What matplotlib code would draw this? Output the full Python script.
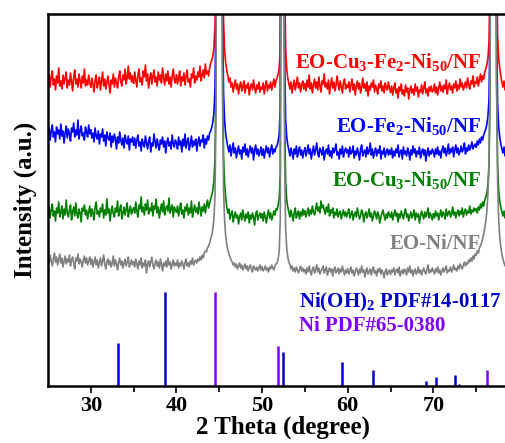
import numpy as np
import matplotlib
matplotlib.use("Agg")
import matplotlib.pyplot as plt

plt.rcParams['font.family'] = ['Liberation Serif', 'DejaVu Serif']
plt.rcParams['font.weight'] = 'bold'
plt.rcParams['mathtext.fontset'] = 'custom'
plt.rcParams['mathtext.rm'] = 'Liberation Serif:bold'
plt.rcParams['mathtext.it'] = 'Liberation Serif:italic:bold'
plt.rcParams['mathtext.bf'] = 'Liberation Serif:bold'

# XRD intensities, one row per 5 deg of 2theta (starting 25, 30, ... 75), step 0.125 deg
# 700 = peak top off scale
red = [
    [14, 22, 9, 19, 25, 11, 17, 6, 20, 13, 28, 10, 15, 7, 21, 12, 18, 24, 8, 16, 11, 23, 14, 5, 19, 26, 12, 17, 9, 22, 15, 8, 20, 13, 27, 10, 16, 11, 21, 14],
    [9, 18, 12, 4, 16, 21, 8, 13, 19, 6, 15, 24, 10, 17, 7, 14, 20, 11, 3, 16, 12, 22, 9, 18, 13, 8, 19, 25, 14, 10, 21, 16, 27, 12, 19, 30, 17, 23, 14, 20],
    [13, 24, 16, 9, 21, 27, 14, 18, 11, 25, 19, 31, 15, 22, 8, 17, 23, 12, 20, 26, 14, 19, 10, 24, 16, 21, 13, 28, 18, 11, 22, 15, 25, 12, 19, 9, 20, 27, 16, 13],
    [21, 12, 18, 25, 10, 19, 15, 23, 11, 20, 26, 14, 17, 9, 22, 18, 28, 13, 20, 16, 24, 19, 30, 15, 21, 26, 18, 32, 22, 25, 20, 28, 33, 36, 40, 48, 70, 150, 700, 700],
    [700, 700, 700, 170, 75, 45, 33, 26, 20, 14, 18, 9, 13, 4, 11, 16, 7, 12, 2, 10, 14, 5, 9, 15, 3, 11, 8, 13, 1, 9, 12, 6, 16, 8, 3, 11, 7, 14, 4, 9],
    [7, 13, 2, 10, 15, 5, 11, 8, 14, 6, 12, 17, 9, 15, 18, 22, 28, 50, 700, 700, 700, 120, 48, 27, 18, 12, 7, 14, 3, 10, 16, 6, 12, 19, 8, 13, 4, 11, 15, 7],
    [12, 5, 16, 9, 21, 7, 13, 3, 11, 17, 8, 14, 6, 19, 10, 4, 15, 12, 22, 9, 13, 7, 16, 2, 11, 18, 8, 14, 5, 10, 20, 12, 6, 15, 9, 3, 13, 17, 7, 11],
    [9, 14, 4, 11, 17, 6, 12, 1, 10, 15, 7, 13, 3, 9, 18, 8, 12, 5, 14, 0, 10, 6, 13, 9, 16, 4, 11, 7, 2, 12, 8, 15, 5, 10, 3, 13, 9, 6, 14, 8],
    [4, 10, 1, 8, 13, 3, 7, -2, 9, 5, 12, 2, 6, 0, 11, 4, 8, -3, 6, 10, 3, 7, 1, 12, 5, 9, -1, 6, 4, 11, 2, 8, 14, 3, 7, 0, 9, 5, 10, 4],
    [6, 12, 3, 9, 1, 8, 14, 5, 10, 4, 11, 7, 16, 2, 9, 13, 6, 10, 3, 12, 8, 15, 5, 11, 7, 17, 9, 13, 6, 10, 14, 8, 18, 11, 7, 15, 12, 20, 9, 14],
    [13, 19, 10, 16, 22, 14, 20, 17, 24, 27, 31, 38, 55, 130, 700, 700, 700, 700, 700, 150, 60, 38, 28, 20, 14, 9, 15, 6, 12, 8, 13, 5, 10],
]
blue = [
    [26, 33, 21, 30, 36, 24, 29, 19, 34, 27, 31, 22, 37, 25, 30, 18, 28, 35, 23, 32, 27, 20, 33, 29, 38, 24, 31, 26, 41, 22, 30, 35, 25, 28, 21, 34, 29, 24, 36, 27],
    [31, 23, 28, 19, 33, 25, 22, 30, 17, 27, 24, 32, 20, 26, 15, 29, 23, 21, 28, 14, 25, 19, 27, 22, 12, 24, 18, 29, 21, 16, 23, 13, 26, 20, 17, 25, 11, 22, 19, 24],
    [16, 23, 13, 21, 26, 15, 19, 10, 22, 17, 14, 25, 18, 12, 20, 24, 9, 18, 15, 27, 19, 13, 22, 16, 11, 21, 17, 24, 14, 20, 8, 18, 23, 15, 19, 12, 26, 17, 14, 21],
    [18, 12, 24, 16, 20, 9, 22, 15, 27, 13, 19, 23, 11, 17, 25, 14, 20, 16, 22, 10, 18, 24, 15, 21, 19, 26, 13, 22, 17, 25, 21, 28, 30, 34, 39, 48, 72, 160, 700, 700],
    [700, 700, 700, 160, 68, 40, 27, 20, 14, 9, 16, 5, 12, 18, 8, 13, 3, 10, 15, 7, 11, 2, 14, 9, 17, 6, 12, 4, 10, 15, 8, 13, 1, 11, 16, 7, 12, 5, 9, 14],
    [6, 12, 3, 10, 15, 8, 13, 4, 11, 16, 7, 12, 9, 14, 15, 20, 27, 55, 700, 700, 700, 110, 42, 24, 16, 11, 5, 13, 8, 2, 12, 7, 15, 4, 10, 14, 6, 11, 3, 9],
    [13, 5, 10, 16, 7, 12, 2, 9, 15, 6, 11, 18, 8, 4, 13, 10, 6, 14, 1, 9, 12, 7, 16, 5, 10, 3, 13, 8, 11, 17, 6, 9, 2, 12, 7, 15, 4, 10, 13, 8],
    [11, 4, 14, 7, 9, 15, 3, 10, 6, 13, 8, 1, 12, 16, 5, 9, 11, 4, 14, 7, 10, 18, 6, 12, 3, 9, 13, 5, 11, 8, 15, 2, 10, 7, 13, 4, 9, 12, 6, 11],
    [7, 13, 3, 10, 5, 12, 8, 16, 4, 9, 11, 2, 14, 7, 10, 5, 13, 9, 1, 11, 6, 15, 8, 12, 4, 10, 7, 14, 3, 9, 12, 6, 11, 0, 8, 13, 5, 10, 7, 12],
    [9, 4, 12, 7, 14, 6, 10, 3, 11, 15, 8, 13, 5, 10, 17, 7, 12, 9, 14, 4, 11, 16, 8, 13, 6, 10, 15, 9, 12, 18, 7, 13, 10, 16, 11, 14, 19, 12, 15, 17],
    [14, 20, 16, 22, 18, 24, 21, 26, 29, 32, 37, 45, 62, 140, 700, 700, 700, 700, 700, 140, 58, 34, 24, 17, 12, 8, 14, 5, 11, 9, 13, 6, 10],
]
green = [
    [12, 19, 8, 16, 22, 10, 15, 5, 18, 13, 24, 9, 14, 20, 7, 17, 11, 26, 13, 9, 16, 21, 6, 14, 19, 10, 23, 12, 8, 17, 13, 4, 18, 15, 21, 11, 16, 7, 14, 20],
    [10, 17, 13, 6, 19, 24, 12, 15, 9, 18, 14, 22, 8, 16, 11, 27, 13, 17, 5, 15, 20, 12, 9, 18, 14, 25, 10, 16, 21, 7, 13, 19, 11, 17, 23, 9, 15, 20, 12, 16],
    [18, 13, 24, 15, 9, 21, 17, 29, 14, 19, 11, 22, 16, 26, 12, 18, 15, 23, 10, 20, 17, 27, 13, 19, 8, 16, 22, 14, 25, 11, 18, 20, 15, 28, 13, 17, 21, 9, 19, 16],
    [14, 20, 10, 17, 23, 12, 16, 8, 19, 15, 22, 11, 18, 13, 25, 9, 16, 21, 14, 18, 12, 24, 17, 10, 19, 15, 22, 13, 20, 26, 18, 23, 27, 31, 36, 45, 68, 150, 700, 700],
    [700, 700, 700, 165, 70, 42, 28, 19, 13, 17, 7, 12, 15, 4, 10, 14, 8, 11, 2, 9, 13, 6, 16, 10, 5, 12, 8, 14, 3, 11, 7, 13, 9, 1, 12, 15, 6, 10, 13, 8],
    [12, 5, 14, 9, 3, 11, 16, 8, 13, 6, 10, 15, 11, 17, 16, 21, 28, 52, 700, 700, 700, 115, 45, 26, 19, 14, 9, 16, 11, 5, 13, 18, 8, 12, 15, 7, 14, 10, 17, 11],
    [15, 9, 13, 18, 10, 16, 12, 20, 14, 11, 17, 23, 15, 19, 13, 25, 18, 21, 16, 12, 19, 14, 22, 10, 16, 13, 18, 8, 14, 11, 17, 9, 13, 15, 7, 12, 16, 10, 14, 9],
    [13, 17, 8, 12, 15, 6, 11, 14, 9, 18, 12, 7, 10, 16, 13, 4, 11, 14, 8, 12, 17, 9, 13, 5, 10, 15, 12, 7, 14, 11, 3, 9, 13, 16, 10, 6, 12, 8, 14, 11],
    [9, 14, 6, 11, 16, 10, 13, 4, 12, 8, 15, 11, 7, 13, 17, 9, 12, 5, 10, 14, 8, 11, 16, 6, 13, 9, 12, 3, 10, 15, 11, 7, 14, 9, 12, 18, 8, 13, 10, 6],
    [12, 8, 15, 10, 13, 6, 11, 16, 9, 14, 12, 7, 17, 10, 13, 15, 9, 12, 19, 11, 14, 8, 13, 16, 10, 15, 12, 18, 9, 14, 17, 11, 15, 13, 20, 12, 16, 14, 18, 15],
    [17, 13, 19, 16, 22, 18, 24, 20, 26, 29, 33, 42, 60, 140, 700, 700, 700, 700, 700, 145, 62, 36, 25, 19, 14, 10, 15, 8, 12, 16, 9, 13, 11],
]
gray = [
    [23, 18, 26, 20, 15, 22, 28, 19, 24, 16, 21, 27, 18, 23, 14, 20, 25, 17, 22, 19, 26, 15, 21, 24, 18, 12, 23, 20, 27, 17, 22, 19, 14, 21, 25, 18, 23, 16, 20, 24],
    [17, 22, 14, 19, 24, 16, 21, 13, 18, 23, 15, 20, 26, 17, 12, 19, 22, 16, 20, 14, 18, 25, 15, 21, 17, 11, 19, 23, 16, 20, 13, 18, 22, 15, 19, 24, 14, 17, 21, 16],
    [19, 14, 22, 17, 12, 20, 16, 23, 13, 18, 15, 21, 8, 17, 20, 14, 19, 24, 16, 12, 18, 21, 15, 19, 13, 22, 17, 10, 18, 15, 20, 14, 23, 16, 19, 12, 17, 21, 15, 18],
    [16, 21, 13, 18, 15, 20, 17, 12, 19, 22, 15, 18, 14, 20, 17, 23, 16, 19, 21, 18, 22, 20, 24, 21, 26, 23, 28, 30, 29, 33, 35, 38, 42, 46, 52, 62, 85, 170, 700, 700],
    [700, 700, 700, 190, 90, 60, 45, 37, 31, 27, 24, 21, 19, 16, 18, 14, 17, 12, 15, 18, 13, 16, 11, 14, 17, 12, 15, 10, 14, 16, 12, 9, 15, 13, 11, 14, 10, 13, 16, 11],
    [14, 10, 12, 15, 11, 13, 9, 14, 12, 16, 13, 11, 15, 17, 18, 22, 30, 62, 700, 700, 700, 125, 52, 33, 24, 19, 16, 12, 15, 10, 13, 9, 14, 11, 8, 12, 15, 10, 13, 9],
    [11, 7, 13, 9, 15, 10, 6, 12, 14, 8, 11, 16, 9, 13, 7, 10, 12, 15, 8, 11, 14, 6, 10, 13, 9, 12, 5, 11, 14, 8, 10, 13, 7, 12, 9, 15, 10, 6, 11, 8],
    [12, 7, 10, 14, 8, 11, 5, 9, 13, 10, 6, 12, 8, 15, 9, 11, 4, 10, 13, 7, 9, 12, 6, 11, 14, 8, 10, 5, 12, 9, 13, 7, 11, 8, 3, 10, 12, 6, 9, 11],
    [7, 11, 9, 13, 6, 10, 12, 8, 14, 5, 9, 11, 7, 12, 10, 6, 13, 9, 15, 8, 11, 5, 10, 12, 7, 9, 14, 8, 11, 6, 10, 13, 9, 7, 12, 16, 8, 11, 9, 13],
    [10, 7, 12, 9, 14, 8, 11, 6, 10, 13, 9, 12, 15, 8, 11, 10, 14, 9, 12, 16, 11, 13, 10, 15, 12, 17, 14, 12, 16, 19, 15, 18, 17, 21, 19, 23, 20, 25, 22, 27],
    [26, 30, 28, 33, 35, 38, 42, 47, 53, 60, 70, 88, 120, 200, 700, 700, 700, 700, 700, 210, 100, 62, 44, 34, 27, 22, 18, 15, 19, 13, 16, 12, 14],
]

# standard patterns
nioh2_pos = [33.2, 38.7, 52.4, 59.3, 62.9, 69.1, 70.3, 72.5, 73.0]
nioh2_int = [43, 94, 34, 24, 16, 5, 9, 11, 2]
ni_pos = [44.5, 51.8, 76.3]
ni_int = [94, 40, 16]

labels = [r'EO-Cu$_3$-Fe$_2$-Ni$_{50}$/NF', r'EO-Fe$_2$-Ni$_{50}$/NF',
          r'EO-Cu$_3$-Ni$_{50}$/NF', 'EO-Ni/NF']
colors = ['#ff0000', '#0000ff', '#008000', '#808080']
offsets = [290, 225, 160, 105]
label_y = [324, 260, 206, 142]

fig = plt.figure(figsize=(5.06, 4.43), dpi=100)
ax = fig.add_axes([48/506, 57/443, 471/506, 372/443])

for rows, c, off in zip([red, blue, green, gray], colors, offsets):
    for k, row in enumerate(rows):
        # join each 5-deg row to the first point of the next one
        vals = list(row)
        if k + 1 < len(rows):
            vals.append(rows[k + 1][0])
        x = 25 + 5 * k + 0.125 * np.arange(len(vals))
        ax.plot(x, np.array(vals) + off, color=c, lw=1.2)

ax.vlines(nioh2_pos, 0, nioh2_int, color='#0000cc', lw=1.8)
ax.vlines(ni_pos, 0, ni_int, color='#8000ff', lw=1.8)

for lab, c, ly in zip(labels, colors, label_y):
    ax.text(75.6, ly, lab, color=c, fontsize=15, ha='right', va='center', fontweight='bold')

ax.text(54.3, 84, r'Ni(OH)$_2$ PDF#14-0117', color='#0000cc', fontsize=15,
        ha='left', va='center', fontweight='bold')
ax.text(54.3, 60, 'Ni PDF#65-0380', color='#8000ff', fontsize=15,
        ha='left', va='center', fontweight='bold')

ax.set_xlim(25, 80)
ax.set_ylim(0, 372)
ax.set_xticks([30, 40, 50, 60, 70])
ax.set_xticks([35, 45, 55, 65, 75], minor=True)
ax.tick_params(axis='x', which='both', direction='out', width=1.2, labelsize=16, pad=2)
ax.tick_params(axis='x', which='major', length=5)
ax.tick_params(axis='x', which='minor', length=4)
ax.set_yticks([])
for s in ax.spines.values():
    s.set_linewidth(1.8)

ax.set_xlabel('2 Theta (degree)', fontsize=18, fontweight='bold', labelpad=0)
ax.set_ylabel('Intensity (a.u.)', fontsize=18, fontweight='bold', labelpad=8)

plt.savefig('out.png', dpi=100)
